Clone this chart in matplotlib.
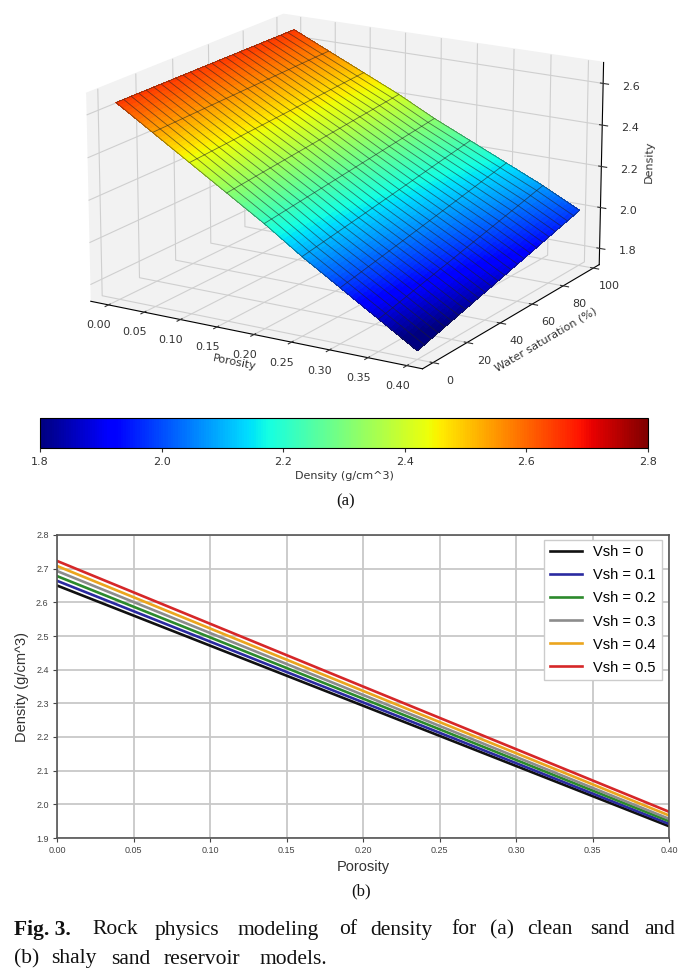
import numpy as np
import matplotlib
matplotlib.use("Agg")
import matplotlib.pyplot as plt
from matplotlib.cm import ScalarMappable
from matplotlib.colors import Normalize

W, H = 698, 977

# densities at the tick positions of panel (a)
por_ticks = [0.00, 0.05, 0.10, 0.15, 0.20, 0.25, 0.30, 0.35, 0.40]
sw_ticks = [0, 20, 40, 60, 80, 100]
rho_sw0 = [2.65, 2.54, 2.43, 2.32, 2.21, 2.09, 1.98, 1.87, 1.76]
rho_sw100 = [2.65, 2.57, 2.49, 2.41, 2.32, 2.24, 2.16, 2.08, 1.99]
z_ticks = [1.8, 2.0, 2.2, 2.4, 2.6]
cbar_ticks = [1.8, 2.0, 2.2, 2.4, 2.6, 2.8]

# panel (b), read at porosity 0, 0.2, 0.4
por_b = [0.0, 0.2, 0.4]
vsh_labels = ["Vsh = 0", "Vsh = 0.1", "Vsh = 0.2", "Vsh = 0.3", "Vsh = 0.4", "Vsh = 0.5"]
vsh_0 = [2.650, 2.293, 1.935]
vsh_1 = [2.664, 2.303, 1.942]
vsh_2 = [2.678, 2.314, 1.950]
vsh_3 = [2.693, 2.325, 1.957]
vsh_4 = [2.708, 2.337, 1.967]
vsh_5 = [2.723, 2.350, 1.978]
vsh_colors = ["#111111", "#2a2aa0", "#2c8a2c", "#8c8c8c", "#eba51e", "#d62728"]
b_xticks = [0.00, 0.05, 0.10, 0.15, 0.20, 0.25, 0.30, 0.35, 0.40]
b_yticks = [1.9, 2.0, 2.1, 2.2, 2.3, 2.4, 2.5, 2.6, 2.7, 2.8]


def box(x0, y0, x1, y1):
    # pixel box (top-left origin) to figure fractions
    return [x0 / W, 1 - y1 / H, (x1 - x0) / W, (y1 - y0) / H]


fig = plt.figure(figsize=(6.98, 9.77), dpi=100)

# ---- (a) surface ----
# square box, bigger than the drawing, so that nothing gets clipped
ax = fig.add_axes(box(10, -140, 670, 520), projection="3d")
ax.patch.set_visible(False)
ax.view_init(elev=17, azim=-59)
ax.set_box_aspect((3.9, 3.73, 2.2), zoom=0.835)

# the table is a plane, so it is only resampled here to get small colour facets
p_fine = np.linspace(0, 0.4, 81)
s_fine = np.linspace(0, 100, 51)
r0 = np.interp(p_fine, por_ticks, rho_sw0)
r1 = np.interp(p_fine, por_ticks, rho_sw100)
P, S = np.meshgrid(p_fine, s_fine, indexing="ij")
Z = r0[:, None] + (r1 - r0)[:, None] * S / 100
ax.plot_surface(P, S, Z, cmap="jet", vmin=1.8, vmax=2.8, rstride=1, cstride=1,
                linewidth=0, antialiased=False, shade=False, zorder=1)
ax.plot_wireframe(P, S, Z, rstride=10, cstride=2, color="#222222", linewidth=0.6,
                  alpha=0.6, zorder=2)

ax.set_xlim(-0.025, 0.42)
ax.set_ylim(-6, 104)
ax.set_zlim(1.72, 2.70)
ax.set_xticks(por_ticks)
ax.set_xticklabels(["%.2f" % v for v in por_ticks])
ax.set_yticks(sw_ticks)
ax.set_zticks(z_ticks)
ax.tick_params(labelsize=8, colors="#333333", pad=4)
ax.tick_params(axis="z", pad=6)
ax.set_xlabel("Porosity", fontsize=8, color="#333333", labelpad=1)
ax.set_ylabel("Water saturation (%)", fontsize=8, color="#333333", labelpad=2)
ax.set_zlabel("Density", fontsize=8, color="#333333", labelpad=3)
for a in (ax.xaxis, ax.yaxis, ax.zaxis):
    a.set_pane_color((0.95, 0.95, 0.95, 1))
    a._axinfo["grid"]["color"] = "#cfcfcf"
    a._axinfo["grid"]["linewidth"] = 0.8

# ---- colourbar ----
cax = fig.add_axes(box(40, 418, 648, 448))
cb = fig.colorbar(ScalarMappable(Normalize(1.8, 2.8), "jet"), cax=cax, orientation="horizontal")
cb.set_ticks(cbar_ticks)
cb.ax.tick_params(labelsize=8, colors="#333333", length=3)
cb.set_label("Density (g/cm^3)", fontsize=8, color="#333333", labelpad=3)

# ---- (b) lines ----
ax2 = fig.add_axes(box(57, 535, 669, 838))
for vals, lab, c in zip([vsh_0, vsh_1, vsh_2, vsh_3, vsh_4, vsh_5], vsh_labels, vsh_colors):
    ax2.plot(por_b, vals, color=c, lw=1.9, label=lab)
ax2.set_xlim(0, 0.4)
ax2.set_ylim(1.9, 2.8)
ax2.set_xticks(b_xticks)
ax2.set_xticklabels(["%.2f" % v for v in b_xticks])
ax2.set_yticks(b_yticks)
ax2.grid(True, color="#c8c8c8", lw=1.3)
ax2.set_axisbelow(True)
for s in ax2.spines.values():
    s.set_color("#555555")
    s.set_linewidth(1.2)
ax2.tick_params(labelsize=6.5, colors="#444444", length=3, pad=3, labelfontfamily="Liberation Sans")
ax2.set_xlabel("Porosity", fontsize=10.5, color="#333333", family="Liberation Sans", labelpad=3)
ax2.set_ylabel("Density (g/cm^3)", fontsize=10.5, color="#333333", family="Liberation Sans", labelpad=5)
ax2.legend(loc="upper right", prop={"family": "Liberation Sans", "size": 10.5},
           fancybox=False, framealpha=1, edgecolor="#cccccc", handlelength=2.2,
           labelspacing=0.62, bbox_to_anchor=(0.988, 0.985), borderaxespad=0)

# ---- captions ----
def label(x, y, s, size=12, weight="normal"):
    fig.text(x / W, 1 - y / H, s, family="Liberation Serif", fontsize=size, weight=weight,
             va="center", color="#111111")

label(336, 501, "(a)")
label(351, 891, "(b)")
label(14, 930, "Fig. 3.", 15.5, "bold")
first_line = [("Rock", 92), ("physics", 155), ("modeling", 238), ("of", 339), ("density", 370),
              ("for", 451), ("(a)", 490), ("clean", 527), ("sand", 590), ("and", 644)]
for word, x in first_line:
    label(x, 930, word, 15.5)
second_line = [("(b)", 14), ("shaly", 51), ("sand", 111), ("reservoir", 164), ("models.", 260)]
for word, x in second_line:
    label(x, 959, word, 15.5)

fig.savefig("out.png", dpi=100)
